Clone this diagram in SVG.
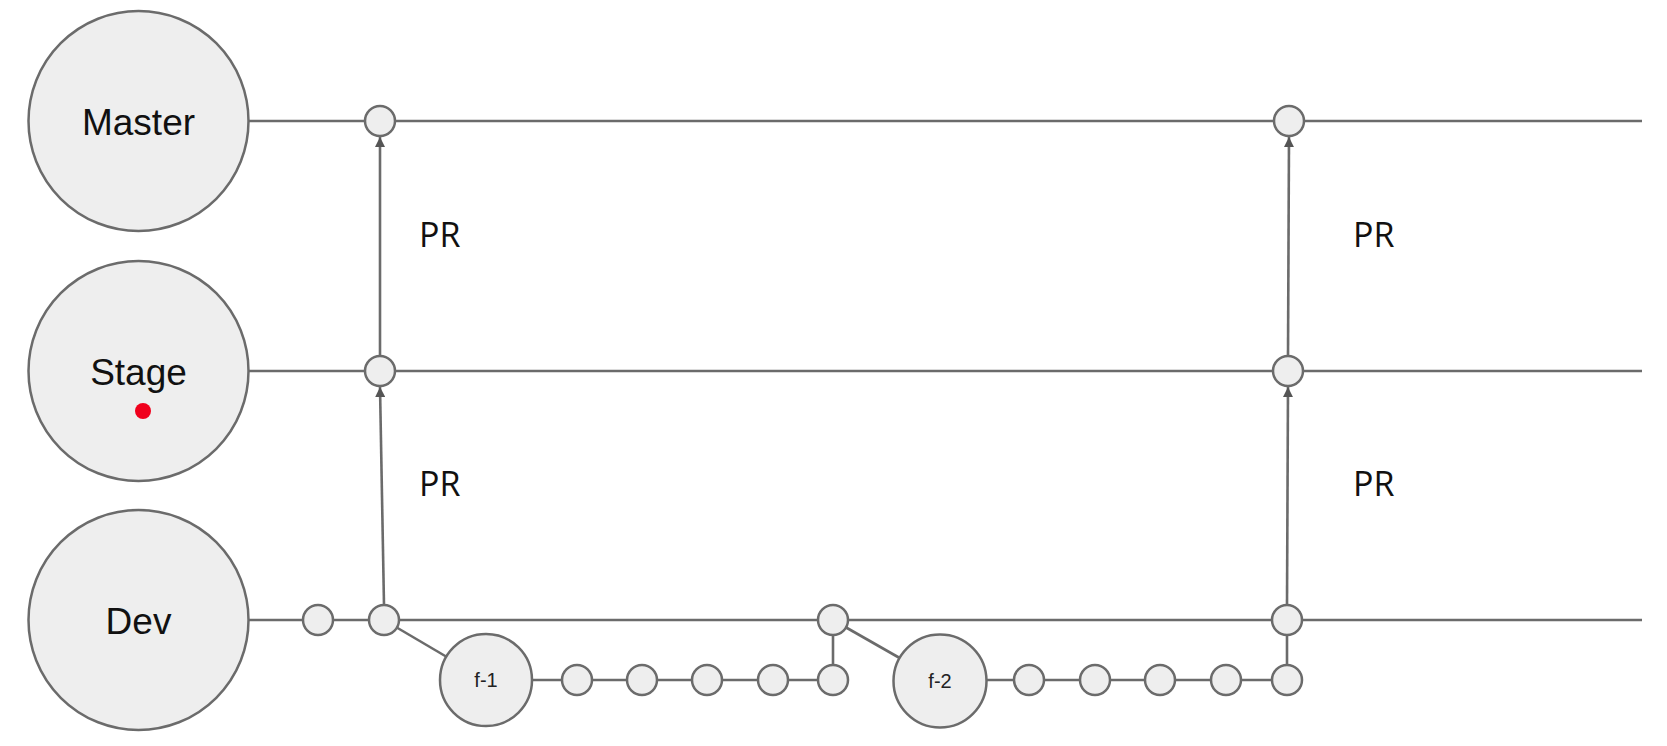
<svg xmlns="http://www.w3.org/2000/svg" width="1667" height="746" viewBox="0 0 1667 746">
<style>
.ln{stroke:#6b6b6b;stroke-width:2.6;fill:none}
.big{fill:#eeeeee;stroke:#6b6b6b;stroke-width:2.5}
.c{fill:#eeeeee;stroke:#6b6b6b;stroke-width:2.5}
.lbl{font-family:"Liberation Sans",Arial,sans-serif;font-size:37px;fill:#111;text-anchor:middle}
.pr{font-family:"Open Sans","Liberation Sans",sans-serif;font-size:34px;fill:#111}
.f{font-family:"Liberation Sans",Arial,sans-serif;font-size:20px;fill:#222;text-anchor:middle}
</style>
<defs>
<marker id="ah" viewBox="0 0 10 10" refX="10" refY="5" markerWidth="4" markerHeight="4" orient="auto" markerUnits="strokeWidth">
<path d="M0,0 L10,5 L0,10 z" fill="#555"/>
</marker>
</defs>
<rect width="1667" height="746" fill="#ffffff"/>
<g id="connectors">
<line class="ln" x1="249" y1="121" x2="1642" y2="121"/>
<line class="ln" x1="249" y1="371" x2="1642" y2="371"/>
<line class="ln" x1="249" y1="620" x2="1642" y2="620"/>
<line class="ln" x1="384" y1="605" x2="380" y2="387" marker-end="url(#ah)"/>
<line class="ln" x1="380" y1="356" x2="380" y2="137" marker-end="url(#ah)"/>
<line class="ln" x1="1287" y1="605" x2="1288" y2="387" marker-end="url(#ah)"/>
<line class="ln" x1="1288" y1="356" x2="1289" y2="137" marker-end="url(#ah)"/>
<line class="ln" x1="384" y1="620" x2="486" y2="680"/>
<line class="ln" x1="486" y1="680" x2="833" y2="680"/>
<line class="ln" x1="833" y1="680" x2="833" y2="620"/>
<line class="ln" x1="833" y1="620" x2="940" y2="681"/>
<line class="ln" x1="940" y1="680" x2="1287" y2="680"/>
<line class="ln" x1="1287" y1="680" x2="1287" y2="620"/>
</g>
<g id="master"><circle class="big" cx="138.5" cy="121" r="110"/><text class="lbl" x="138.5" y="135">Master</text></g>
<g id="stage"><circle class="big" cx="138.5" cy="371" r="110"/><text class="lbl" x="138.5" y="385">Stage</text><circle cx="143" cy="411" r="8" fill="#f0001c"/></g>
<g id="dev"><circle class="big" cx="138.5" cy="620" r="110"/><text class="lbl" x="138.5" y="634">Dev</text></g>
<g id="m1"><circle class="c" cx="380" cy="121" r="15"/></g>
<g id="m2"><circle class="c" cx="1289" cy="121" r="15"/></g>
<g id="s1"><circle class="c" cx="380" cy="371" r="15"/></g>
<g id="s2"><circle class="c" cx="1288" cy="371" r="15"/></g>
<g id="d1"><circle class="c" cx="318" cy="620" r="15"/></g>
<g id="d2"><circle class="c" cx="384" cy="620" r="15"/></g>
<g id="d3"><circle class="c" cx="833" cy="620" r="15"/></g>
<g id="d4"><circle class="c" cx="1287" cy="620" r="15"/></g>
<g id="f1"><circle class="c" cx="486" cy="680" r="46"/><text class="f" x="486" y="687">f-1</text></g>
<g id="f1a"><circle class="c" cx="577" cy="680" r="15"/></g>
<g id="f1b"><circle class="c" cx="642" cy="680" r="15"/></g>
<g id="f1c"><circle class="c" cx="707" cy="680" r="15"/></g>
<g id="f1d"><circle class="c" cx="773" cy="680" r="15"/></g>
<g id="f1e"><circle class="c" cx="833" cy="680" r="15"/></g>
<g id="f2"><circle class="c" cx="940" cy="681" r="46.5"/><text class="f" x="940" y="688">f-2</text></g>
<g id="f2a"><circle class="c" cx="1029" cy="680" r="15"/></g>
<g id="f2b"><circle class="c" cx="1095" cy="680" r="15"/></g>
<g id="f2c"><circle class="c" cx="1160" cy="680" r="15"/></g>
<g id="f2d"><circle class="c" cx="1226" cy="680" r="15"/></g>
<g id="f2e"><circle class="c" cx="1287" cy="680" r="15"/></g>
<g id="labels">
<text class="pr" x="419" y="247">PR</text>
<text class="pr" x="419" y="496">PR</text>
<text class="pr" x="1353" y="247">PR</text>
<text class="pr" x="1353" y="496">PR</text>
</g>
</svg>
